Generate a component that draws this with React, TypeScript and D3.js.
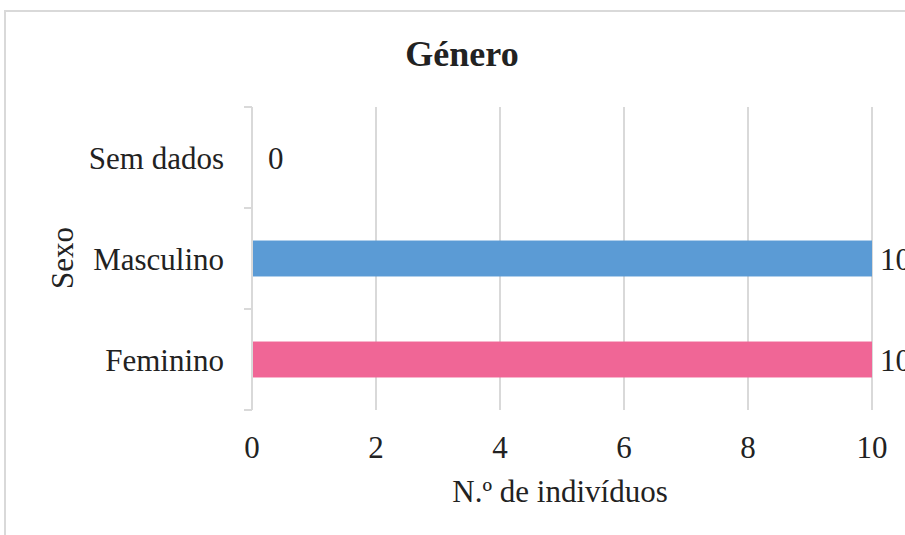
import React from "react";
import * as d3 from "d3";

const categories = ["Sem dados", "Masculino", "Feminino"];
const values = [0, 10, 10];
const colors = ["#5B9BD5", "#5B9BD5", "#F06696"];
const xTicks = [0, 2, 4, 6, 8, 10];
const title = "Género";
const xTitle = "N.º de indivíduos";
const yTitle = "Sexo";

export default function App() {
  const W = 905;
  const H = 535;
  const font = "'Liberation Serif', 'Times New Roman', serif";
  const textColor = "#222";
  const grid = "#d9d9d9";

  const x = d3.scaleLinear().domain([0, 10]).range([252, 872]);
  const y = d3
    .scaleBand<string>()
    .domain(categories)
    .range([107, 410])
    .paddingInner(0.644)
    .paddingOuter(0.322);

  const step = y.step();
  const top = 107;
  const bottom = 410;
  const boundaries = d3.range(categories.length + 1).map((i) => top + i * step);

  return (
    <svg
      width={W}
      height={H}
      style={{ position: "absolute", left: 0, top: 0, background: "#fff" }}
      fontFamily={font}
    >
      <rect x={0} y={0} width={W} height={H} fill="#fff" />
      {/* chart border */}
      <rect x={5} y={11} width={W + 10} height={H + 10} fill="none" stroke={grid} strokeWidth={2} />
      {/* title */}
      <text x={462} y={66} textAnchor="middle" fontSize={36} fontWeight="bold" fill={textColor}>
        {title}
      </text>
      {/* gridlines */}
      {xTicks.slice(1).map((t) => (
        <line key={t} x1={x(t)} x2={x(t)} y1={top} y2={bottom} stroke={grid} strokeWidth={2} />
      ))}
      {/* y axis line and ticks */}
      <line x1={x(0)} x2={x(0)} y1={top} y2={bottom} stroke={grid} strokeWidth={2} />
      {boundaries.map((b, i) => (
        <line key={i} x1={244} x2={x(0)} y1={b} y2={b} stroke={grid} strokeWidth={2} />
      ))}
      {/* bars */}
      {categories.map((c, i) => (
        <rect
          key={c}
          x={x(0) + 1}
          y={y(c)!}
          width={Math.max(0, x(values[i]) - x(0) - 1)}
          height={y.bandwidth()}
          fill={colors[i]}
        />
      ))}
      {/* data labels */}
      {categories.map((c, i) => (
        <text
          key={c}
          x={x(values[i]) + (values[i] === 0 ? 16 : 8)}
          y={y(c)! + y.bandwidth() / 2 + 11}
          fontSize={31}
          fill={textColor}
        >
          {values[i]}
        </text>
      ))}
      {/* category labels */}
      {categories.map((c) => (
        <text
          key={c}
          x={224}
          y={y(c)! + y.bandwidth() / 2 + 11}
          textAnchor="end"
          fontSize={31}
          fill={textColor}
        >
          {c}
        </text>
      ))}
      {/* x tick labels */}
      {xTicks.map((t) => (
        <text key={t} x={x(t)} y={458} textAnchor="middle" fontSize={31} fill={textColor}>
          {t}
        </text>
      ))}
      {/* axis titles */}
      <text x={560} y={502} textAnchor="middle" fontSize={31} fill={textColor}>
        {xTitle}
      </text>
      <text
        transform={`translate(73, 258) rotate(-90)`}
        textAnchor="middle"
        fontSize={31}
        fill={textColor}
      >
        {yTitle}
      </text>
    </svg>
  );
}
